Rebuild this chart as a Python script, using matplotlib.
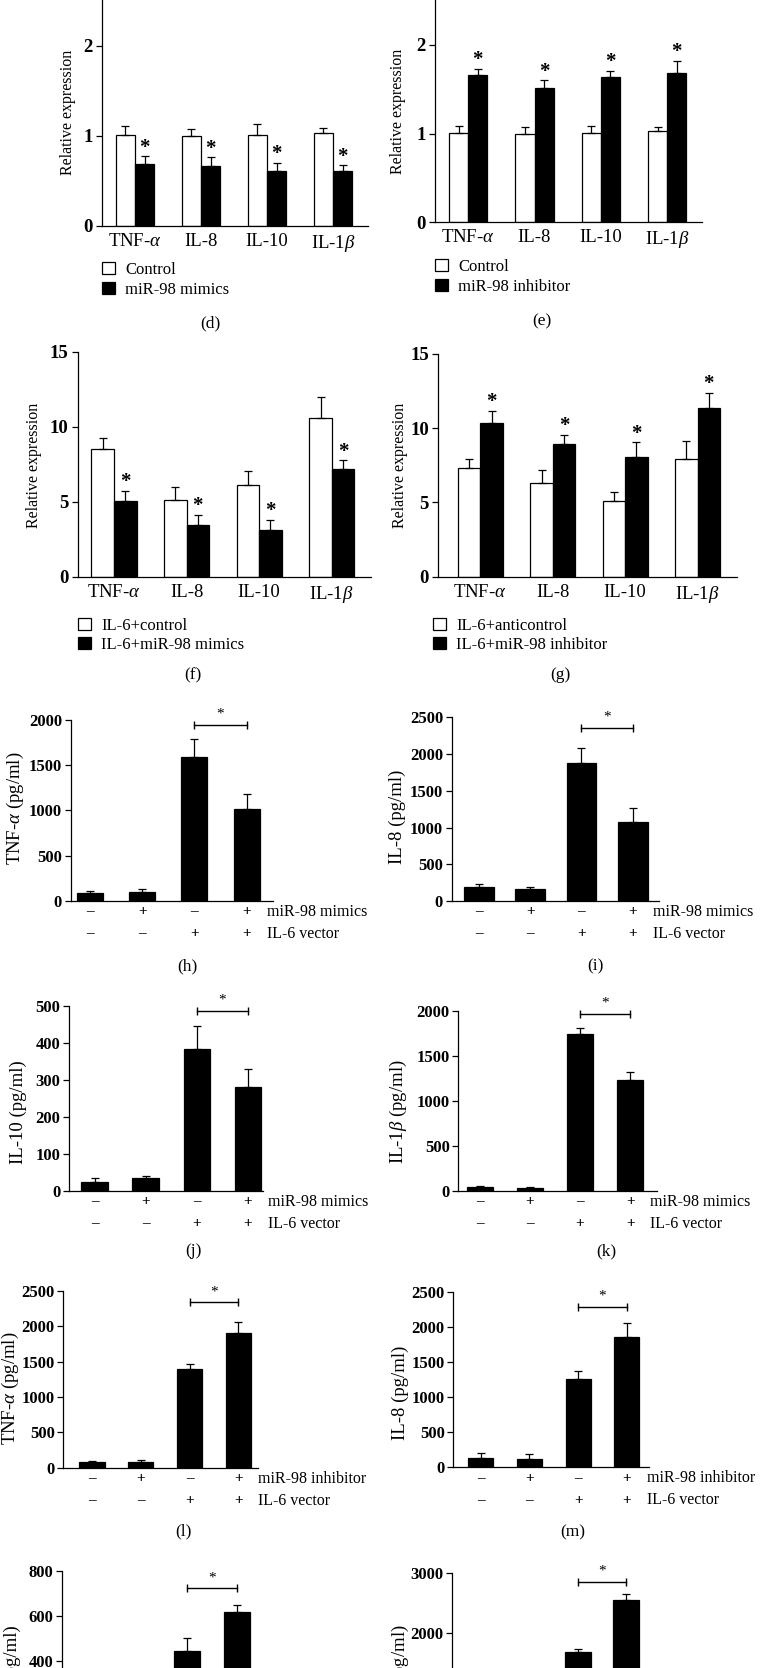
import numpy as np
import matplotlib.pyplot as plt
from matplotlib.patches import Patch

plt.rcParams["font.family"] = ["Liberation Serif", "DejaVu Serif"]
plt.rcParams["mathtext.fontset"] = "custom"
plt.rcParams["mathtext.rm"] = "Liberation Serif"
plt.rcParams["mathtext.it"] = "Liberation Serif:italic"
plt.rcParams["mathtext.bf"] = "Liberation Serif:bold"
plt.rcParams["axes.linewidth"] = 0.9

W, H = 760, 1668

cytokines = ["TNF-$\\alpha$", "IL-8", "IL-10", "IL-1$\\beta$"]

# (d)-(g) relative expression: control bar, treated bar, upper error
d_ctrl = [1.01, 1.00, 1.01, 1.03]; d_ctrl_err = [0.10, 0.08, 0.12, 0.06]
d_trt = [0.69, 0.66, 0.61, 0.61]; d_trt_err = [0.08, 0.10, 0.09, 0.06]
e_ctrl = [1.01, 1.00, 1.01, 1.03]; e_ctrl_err = [0.08, 0.07, 0.08, 0.04]
e_trt = [1.66, 1.51, 1.64, 1.68]; e_trt_err = [0.07, 0.09, 0.07, 0.14]
f_ctrl = [8.51, 5.13, 6.09, 10.56]; f_ctrl_err = [0.71, 0.83, 0.98, 1.40]
f_trt = [5.05, 3.42, 3.09, 7.20]; f_trt_err = [0.66, 0.71, 0.69, 0.56]
g_ctrl = [7.32, 6.31, 5.10, 7.92]; g_ctrl_err = [0.60, 0.90, 0.63, 1.23]
g_trt = [10.34, 8.93, 8.05, 11.34]; g_trt_err = [0.85, 0.63, 0.99, 1.03]

# (h)-(o) ELISA, pg/ml
treat_signs = ["–", "+", "–", "+"]
vector_signs = ["–", "–", "+", "+"]
h_vals = [80, 93, 1590, 1011]; h_err = [27, 33, 196, 166]
i_vals = [187, 159, 1876, 1080]; i_err = [40, 32, 204, 191]
j_vals = [24, 33, 384, 279]; j_err = [11, 7, 60, 49]
k_vals = [44, 26, 1749, 1230]; k_err = [11, 11, 59, 92]
l_vals = [76, 85, 1393, 1903]; l_err = [19, 24, 76, 165]
m_vals = [137, 114, 1264, 1860]; m_err = [71, 76, 104, 194]
n_vals = [30, 35, 444, 615]; n_err = [10, 10, 57, 33]
o_vals = [50, 40, 1669, 2551]; o_err = [15, 12, 51, 96]

fig = plt.figure(figsize=(W/100, H/100), dpi=100)

def fx(x): return x/W
def fy(y): return 1-y/H

def px_axes(x0, x1, y_top, y_bot):
    ax = fig.add_axes([fx(x0), fy(y_bot), (x1-x0)/W, (y_bot-y_top)/H])
    ax.spines[["top", "right"]].set_visible(False)
    return ax

def upper_err(ax, x, y, err, cap=2.6):
    ax.errorbar(x, y, yerr=[np.zeros(len(y)), err], fmt="none", ecolor="black",
                elinewidth=0.9, capsize=cap, capthick=0.9, zorder=3)

def rel_panel(box, xlim, ymax, step, w, ctrl, ctrl_err, trt, trt_err, labels, leg, tag, tag_xy, ylab_xy):
    ax = px_axes(*box)
    x = np.arange(4)
    ax.bar(x-w/2, ctrl, w, color="white", edgecolor="black", lw=0.9, zorder=2)
    ax.bar(x+w/2, trt, w, color="black", edgecolor="black", lw=0.9, zorder=2)
    upper_err(ax, x-w/2, ctrl, ctrl_err); upper_err(ax, x+w/2, trt, trt_err)
    for xi, t, e in zip(x+w/2, trt, trt_err):
        ax.annotate("*", (xi, t+e), xytext=(0, -1), textcoords="offset points", ha="center", va="bottom",
                    fontsize=15, fontweight="bold")
    ax.set_xlim(*xlim); ax.set_ylim(0, ymax); ax.set_yticks(np.arange(0, ymax+step/2, step))
    ax.set_xticks(x); ax.set_xticklabels(cytokines, fontsize=13.5)
    ax.tick_params(axis="x", length=0, pad=5)
    ax.tick_params(axis="y", length=4.3, width=0.9, labelsize=13.5, pad=2.5)
    for t in ax.get_yticklabels(): t.set_fontweight("bold")
    handles = [Patch(facecolor="white", edgecolor="black", lw=0.9), Patch(facecolor="black", edgecolor="black", lw=0.9)]
    ax.legend(handles, labels, loc="upper left", bbox_to_anchor=(fx(leg[0]), fy(leg[1])), bbox_transform=fig.transFigure,
              frameon=False, fontsize=12, handlelength=0.8, handleheight=0.75, handletextpad=0.6,
              labelspacing=0.22, borderpad=0, borderaxespad=0)
    fig.text(fx(ylab_xy[0]), fy(ylab_xy[1]), "Relative expression", rotation=90, ha="center", va="center", fontsize=11.5)
    fig.text(fx(tag_xy[0]), fy(tag_xy[1]), tag, ha="center", va="center", fontsize=12.5)

def elisa_panel(box, xlim, ymax, step, w, vals, err, bracket, treat, ylab, ylab_xy, tag, tag_xy):
    ax = px_axes(*box)
    x = np.arange(4)
    ax.bar(x, vals, w, color="black", edgecolor="black", lw=0.9, zorder=2)
    upper_err(ax, x, vals, err)
    ax.plot([2, 3], [bracket, bracket], color="black", lw=1.0, marker="|", ms=6, mew=1.0, clip_on=False)
    ax.annotate("*", (2.5, bracket), xytext=(0, 4), textcoords="offset pixels", ha="center", va="bottom", fontsize=11)
    ax.set_xlim(*xlim); ax.set_ylim(0, ymax); ax.set_yticks(np.arange(0, ymax+step/2, step))
    ax.set_xticks([])
    ax.tick_params(axis="y", length=4, width=0.9, labelsize=12, pad=2.2)
    for t in ax.get_yticklabels(): t.set_fontweight("bold")
    for xi, s1, s2 in zip(x, treat_signs, vector_signs):
        ax.annotate(s1, (xi, 0), xycoords=("data", "axes fraction"), xytext=(0, -11), textcoords="offset pixels",
                    ha="center", va="center", fontsize=11, fontweight="bold")
        ax.annotate(s2, (xi, 0), xycoords=("data", "axes fraction"), xytext=(0, -33), textcoords="offset pixels",
                    ha="center", va="center", fontsize=11, fontweight="bold")
    ax.annotate(treat, (3, 0), xycoords=("data", "axes fraction"), xytext=(20, -11), textcoords="offset pixels",
                ha="left", va="center", fontsize=11.5)
    ax.annotate("IL-6 vector", (3, 0), xycoords=("data", "axes fraction"), xytext=(20, -33), textcoords="offset pixels",
                ha="left", va="center", fontsize=11.5)
    fig.text(fx(ylab_xy[0]), fy(ylab_xy[1]), ylab, rotation=90, ha="center", va="center", fontsize=13.5)
    fig.text(fx(tag_xy[0]), fy(tag_xy[1]), tag, ha="center", va="center", fontsize=12.5)

rel_panel((102, 368, -44.3, 225.7), (-0.5, 3.53), 3, 1, 0.29, d_ctrl, d_ctrl_err, d_trt, d_trt_err,
          ("Control", "miR-98 mimics"), (102, 262), "(d)", (210, 323), (68, 112.5))
rel_panel((435, 701.7, -43.8, 222.3), (-0.5, 3.52), 3, 1, 0.29, e_ctrl, e_ctrl_err, e_trt, e_trt_err,
          ("Control", "miR-98 inhibitor"), (435, 259), "(e)", (541.7, 321.7), (398, 111))
rel_panel((77.7, 371, 351.7, 576.7), (-0.5, 3.54), 15, 5, 0.31, f_ctrl, f_ctrl_err, f_trt, f_trt_err,
          ("IL-6+control", "IL-6+miR-98 mimics"), (77.7, 617.5), "(f)", (193, 675), (34, 465))
rel_panel((438.3, 736.7, 354, 576.7), (-0.58, 3.54), 15, 5, 0.31, g_ctrl, g_ctrl_err, g_trt, g_trt_err,
          ("IL-6+anticontrol", "IL-6+miR-98 inhibitor"), (433, 617.5), "(g)", (560, 675), (400, 465.8))

elisa_panel((70.7, 272.7, 720, 900.7), (-0.37, 3.5), 2000, 500, 0.5, h_vals, h_err, 1945, "miR-98 mimics",
            "TNF-$\\alpha$ (pg/ml)", (15.8, 808), "(h)", (187, 966))
elisa_panel((451.7, 659.3, 717.3, 901), (-0.53, 3.52), 2500, 500, 0.58, i_vals, i_err, 2361, "miR-98 mimics",
            "IL-8 (pg/ml)", (397, 816.7), "(i)", (595, 966))
elisa_panel((69, 263.3, 1005.7, 1190.7), (-0.5, 3.3), 500, 100, 0.52, j_vals, j_err, 487, "miR-98 mimics",
            "IL-10 (pg/ml)", (18.3, 1112), "(j)", (193, 1251))
elisa_panel((458.3, 656.7, 1011, 1190.7), (-0.43, 3.53), 2000, 500, 0.52, k_vals, k_err, 1971, "miR-98 mimics",
            "IL-1$\\beta$ (pg/ml)", (398.3, 1111.7), "(k)", (606.7, 1251))
elisa_panel((63.3, 258.3, 1291, 1467.7), (-0.59, 3.41), 2500, 500, 0.52, l_vals, l_err, 2343, "miR-98 inhibitor",
            "TNF-$\\alpha$ (pg/ml)", (10.5, 1388.3), "(l)", (183.3, 1531))
elisa_panel((453.3, 649.3, 1291.7, 1467.3), (-0.56, 3.46), 2500, 500, 0.51, m_vals, m_err, 2288, "miR-98 inhibitor",
            "IL-8 (pg/ml)", (400, 1392.5), "(m)", (573, 1532))
elisa_panel((62.3, 258, 1570.7, 1750.7), (-0.49, 3.42), 800, 200, 0.52, n_vals, n_err, 722, "miR-98 inhibitor",
            "IL-10 (pg/ml)", (12.5, 1677), "(n)", (185, 1812))
elisa_panel((451.7, 649, 1573.3, 1751.3), (-0.64, 3.47), 3000, 1000, 0.54, o_vals, o_err, 2860, "miR-98 inhibitor",
            "IL-1$\\beta$ (pg/ml)", (400, 1677), "(o)", (573, 1812))

fig.savefig("out.png", dpi=100)
